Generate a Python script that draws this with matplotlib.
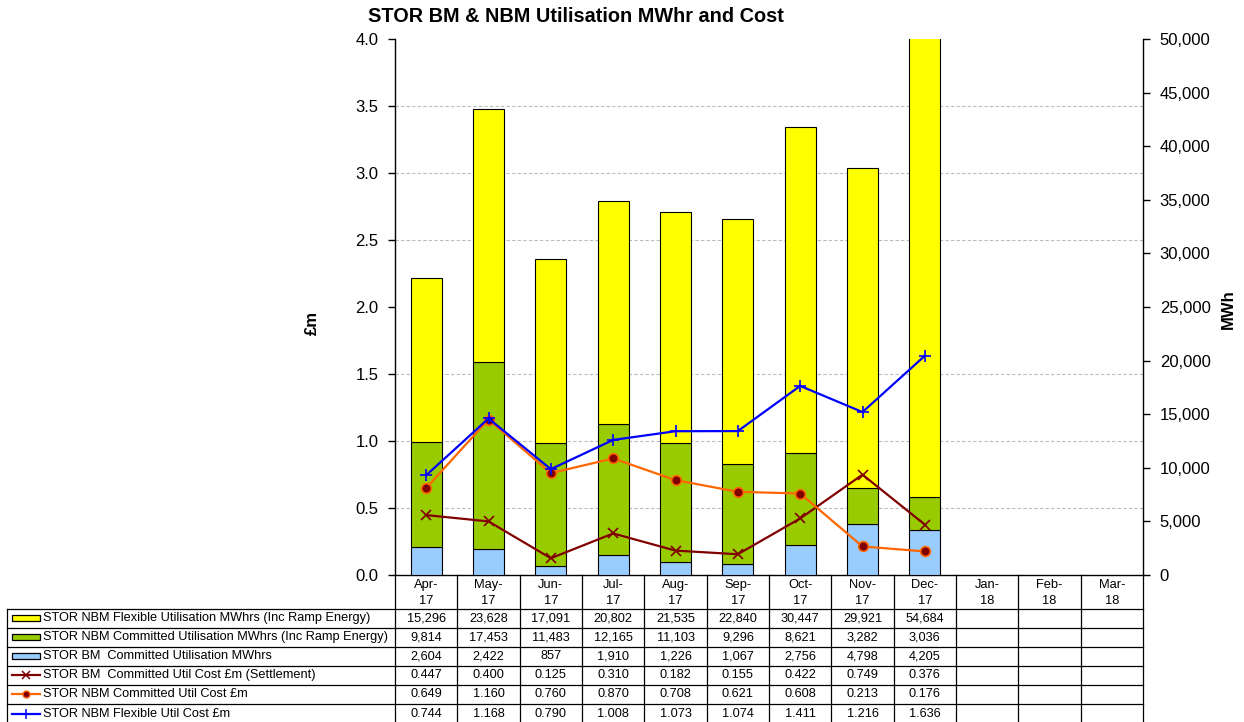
import matplotlib
matplotlib.use("Agg")
import matplotlib.pyplot as plt
from matplotlib.transforms import blended_transform_factory
from matplotlib.lines import Line2D
from matplotlib.patches import Rectangle
from matplotlib.ticker import FuncFormatter, MultipleLocator

plt.rcParams['font.family'] = ['Liberation Sans', 'DejaVu Sans']

months = ["Apr-\n17", "May-\n17", "Jun-\n17", "Jul-\n17", "Aug-\n17", "Sep-\n17",
          "Oct-\n17", "Nov-\n17", "Dec-\n17", "Jan-\n18", "Feb-\n18", "Mar-\n18"]
nbm_flex_mwh = [15296, 23628, 17091, 20802, 21535, 22840, 30447, 29921, 54684]
nbm_comm_mwh = [9814, 17453, 11483, 12165, 11103, 9296, 8621, 3282, 3036]
bm_comm_mwh = [2604, 2422, 857, 1910, 1226, 1067, 2756, 4798, 4205]
bm_comm_cost = [0.447, 0.400, 0.125, 0.310, 0.182, 0.155, 0.422, 0.749, 0.376]
nbm_comm_cost = [0.649, 1.160, 0.760, 0.870, 0.708, 0.621, 0.608, 0.213, 0.176]
nbm_flex_cost = [0.744, 1.168, 0.790, 1.008, 1.073, 1.074, 1.411, 1.216, 1.636]

series_labels = [
    "STOR NBM Flexible Utilisation MWhrs (Inc Ramp Energy)",
    "STOR NBM Committed Utilisation MWhrs (Inc Ramp Energy)",
    "STOR BM  Committed Utilisation MWhrs",
    "STOR BM  Committed Util Cost \u00a3m (Settlement)",
    "STOR NBM Committed Util Cost \u00a3m",
    "STOR NBM Flexible Util Cost \u00a3m",
]

W, H = 1244, 722
fig = plt.figure(figsize=(W / 100, H / 100), dpi=100)
fig.patch.set_facecolor('white')

def fx(p):
    return p / W

def fy(p):
    return 1 - p / H

ax_left, ax_right, ax_top, ax_bot = 395, 1143, 39, 575
pos = [fx(ax_left), fy(ax_bot), fx(ax_right) - fx(ax_left), fy(ax_top) - fy(ax_bot)]

YELLOW = '#FFFF00'
GREEN = '#99CC00'
LBLUE = '#99CCFF'
DRED = '#800000'
ORANGE = '#FF6600'
BLUE = '#0000FF'

MWH_MAX = 50000
COST_MAX = 4.0
COST_STEP = 0.5

# Bar axis (MWh, right side)
axb = fig.add_axes(pos)
x = list(range(len(nbm_flex_mwh)))
bw = 0.5
axb.bar(x, bm_comm_mwh, bw, color=LBLUE, edgecolor='black', linewidth=0.8, zorder=3)
bottom2 = [a for a in bm_comm_mwh]
axb.bar(x, nbm_comm_mwh, bw, bottom=bottom2, color=GREEN, edgecolor='black', linewidth=0.8, zorder=3)
bottom3 = [a + b for a, b in zip(bm_comm_mwh, nbm_comm_mwh)]
axb.bar(x, nbm_flex_mwh, bw, bottom=bottom3, color=YELLOW, edgecolor='black', linewidth=0.8, zorder=3)
axb.set_xlim(-0.5, len(months) - 0.5)
axb.set_ylim(0, MWH_MAX)
axb.yaxis.set_major_locator(MultipleLocator(5000))
axb.yaxis.set_major_formatter(FuncFormatter(lambda v, p: f"{int(v):,}"))
# gridlines follow the left (cost) axis steps
axb.yaxis.set_minor_locator(MultipleLocator(MWH_MAX * COST_STEP / COST_MAX))
axb.yaxis.tick_right()
axb.grid(axis='y', which='minor', color='#BBBBBB', linestyle=(0, (3, 2)), linewidth=0.8, zorder=0)
axb.grid(axis='y', which='major', visible=False)
axb.set_xticks([])
for s in ['top', 'left']:
    axb.spines[s].set_visible(False)
axb.spines['right'].set_linewidth(1.0)
axb.spines['bottom'].set_linewidth(1.0)
axb.tick_params(axis='y', which='major', direction='out', length=5, width=1, labelsize=12, pad=7)
axb.tick_params(axis='y', which='minor', length=0)

# Line axis (£m, left side)
axl = fig.add_axes(pos, sharex=axb)
axl.patch.set_visible(False)
axl.plot(x, bm_comm_cost, color=DRED, linewidth=1.6, marker='x', markersize=7.5,
         markeredgewidth=1.2, markeredgecolor=DRED, zorder=4)
axl.plot(x, nbm_comm_cost, color=ORANGE, linewidth=1.6, marker='o', markersize=7,
         markerfacecolor=DRED, markeredgecolor=ORANGE, markeredgewidth=1.2, zorder=4)
axl.plot(x, nbm_flex_cost, color=BLUE, linewidth=1.6, marker='+', markersize=9,
         markeredgewidth=1.2, zorder=5)
axl.set_ylim(0, COST_MAX)
axl.yaxis.set_major_locator(MultipleLocator(COST_STEP))
axl.yaxis.set_major_formatter(FuncFormatter(lambda v, p: f"{v:.1f}"))
for s in ['top', 'right', 'bottom']:
    axl.spines[s].set_visible(False)
axl.spines['left'].set_linewidth(1.0)
axl.tick_params(axis='y', direction='out', length=5, width=1, labelsize=12, pad=7)
axl.tick_params(axis='x', length=0, labelbottom=False)

fig.text(fx(312), fy(323), '\u00a3m', rotation=90, ha='center', va='center',
         fontsize=12, fontweight='bold')
fig.text(fx(1228), fy(309), 'MWh', rotation=90, ha='center', va='center',
         fontsize=12, fontweight='bold')

fig.text(fx(576), fy(17), 'STOR BM & NBM Utilisation MWhr and Cost', ha='center', va='center',
         fontsize=14.3, fontweight='bold')

# Data table
tr = blended_transform_factory(axb.transData, fig.transFigure)
n = len(months)
head_bot = 608.5
row_h = 19.1
tab_left = 7
rows_y = [head_bot + k * row_h for k in range(7)]

lw = 0.9
for i in range(n + 1):
    xb = i - 0.5
    fig.add_artist(Line2D([xb, xb], [fy(ax_bot), fy(rows_y[-1])], transform=tr,
                          color='black', linewidth=lw))
fig.add_artist(Line2D([fx(tab_left), fx(tab_left)], [fy(rows_y[0]), fy(rows_y[-1])],
                      color='black', linewidth=lw))
for yb in rows_y:
    fig.add_artist(Line2D([fx(tab_left), fx(ax_right)], [fy(yb), fy(yb)],
                          color='black', linewidth=lw))

for i, m in enumerate(months):
    fig.text(i, fy((ax_bot + head_bot) / 2 + 1), m, transform=tr, ha='center', va='center',
             fontsize=9.3, linespacing=1.45)

table_rows = [
    [f"{v:,}" for v in nbm_flex_mwh],
    [f"{v:,}" for v in nbm_comm_mwh],
    [f"{v:,}" for v in bm_comm_mwh],
    [f"{v:.3f}" for v in bm_comm_cost],
    [f"{v:.3f}" for v in nbm_comm_cost],
    [f"{v:.3f}" for v in nbm_flex_cost],
]
for r, vals in enumerate(table_rows):
    yc = fy(rows_y[r] + row_h / 2)
    for i, v in enumerate(vals):
        fig.text(i, yc, v, transform=tr, ha='center', va='center', fontsize=9.2)
    fig.text(fx(43), yc, series_labels[r], ha='left', va='center', fontsize=9.2)

key_x0, key_x1 = 12, 40
bar_cols = [YELLOW, GREEN, LBLUE]
for r in range(3):
    yc = rows_y[r] + row_h / 2
    fig.add_artist(Rectangle((fx(key_x0), fy(yc + 3)), fx(key_x1) - fx(key_x0), 6 / H,
                             facecolor=bar_cols[r], edgecolor='black', linewidth=0.9,
                             transform=fig.transFigure))
line_styles = [
    dict(color=DRED, marker='x', markersize=6, markeredgewidth=1.1),
    dict(color=ORANGE, marker='o', markersize=5, markerfacecolor=DRED, markeredgecolor=ORANGE),
    dict(color=BLUE, marker='+', markersize=7, markeredgewidth=1.1),
]
for k, st in enumerate(line_styles):
    yc = fy(rows_y[3 + k] + row_h / 2)
    fig.add_artist(Line2D([fx(key_x0), fx(key_x1)], [yc, yc], linewidth=1.6,
                          transform=fig.transFigure, color=st['color']))
    fig.add_artist(Line2D([fx((key_x0 + key_x1) / 2)], [yc], linestyle='none',
                          transform=fig.transFigure, **st))

fig.savefig('out.png', dpi=100)
